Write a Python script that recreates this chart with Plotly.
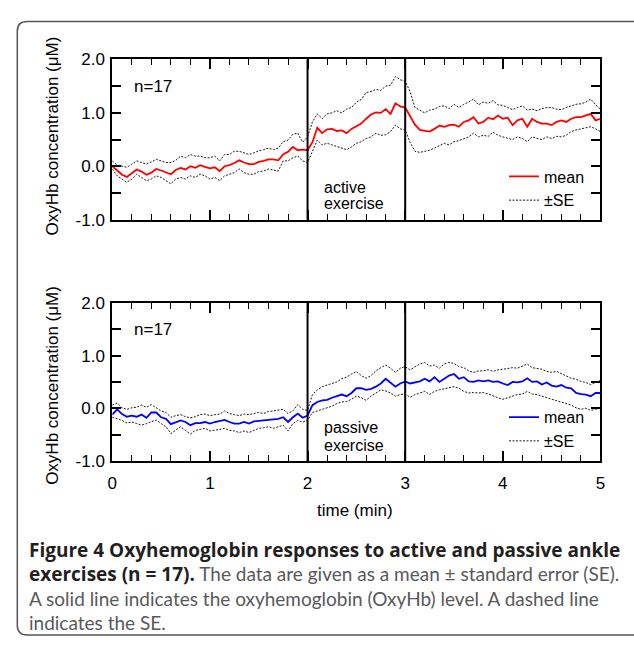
import numpy as np
import plotly.graph_objects as go

# ---------------- data ----------------
time_min = np.linspace(0, 5, 101)  # sampling grid, 0.05 min

exercise_window = [2, 3]

active_mean = [
    0.00, -0.08, -0.16, -0.20, -0.13, -0.06, -0.10, -0.16, -0.12, -0.05, -0.08, -0.11, -0.15, -0.07, -0.03, -0.06, 0.00, -0.03, 0.02, -0.01,
    -0.04, -0.02, -0.09, 0.00, 0.02, 0.06, 0.11, 0.07, 0.04, 0.04, 0.08, 0.10, 0.13, 0.13, 0.11, 0.22, 0.27, 0.36, 0.30, 0.31,
    0.30, 0.45, 0.72, 0.62, 0.69, 0.70, 0.66, 0.67, 0.62, 0.70, 0.75, 0.80, 0.89, 0.97, 1.01, 1.00, 1.07, 0.98, 1.18, 1.12,
    1.10, 0.95, 0.78, 0.68, 0.66, 0.65, 0.70, 0.76, 0.74, 0.77, 0.78, 0.74, 0.83, 0.86, 0.92, 0.80, 0.83, 0.91, 0.88, 0.95,
    0.89, 0.91, 0.77, 0.86, 0.89, 0.74, 0.89, 0.83, 0.80, 0.80, 0.77, 0.83, 0.86, 0.83, 0.89, 0.92, 0.92, 0.95, 0.98, 0.86,
    0.89,
]
active_upper = [
    0.10, 0.02, 0.00, -0.02, 0.04, 0.10, 0.07, 0.04, 0.08, 0.13, 0.10, 0.07, 0.07, 0.11, 0.19, 0.16, 0.22, 0.19, 0.19, 0.16,
    0.16, 0.19, 0.10, 0.22, 0.22, 0.28, 0.28, 0.25, 0.22, 0.25, 0.29, 0.31, 0.34, 0.31, 0.34, 0.46, 0.49, 0.60, 0.62, 0.45,
    0.55, 0.83, 0.98, 0.89, 0.98, 1.00, 1.04, 1.00, 1.07, 1.10, 1.20, 1.25, 1.38, 1.40, 1.44, 1.42, 1.50, 1.52, 1.68, 1.62,
    1.59, 1.40, 1.10, 1.05, 1.00, 1.05, 1.07, 1.12, 1.13, 1.08, 1.16, 1.10, 1.16, 1.20, 1.26, 1.15, 1.20, 1.18, 1.23, 1.15,
    1.14, 1.10, 1.06, 1.10, 1.13, 1.05, 1.07, 1.04, 1.08, 1.10, 1.10, 1.07, 1.06, 1.10, 1.13, 1.16, 1.17, 1.20, 1.26, 1.15,
    1.07,
]
active_lower = [
    -0.05, -0.18, -0.24, -0.30, -0.24, -0.15, -0.21, -0.27, -0.24, -0.18, -0.21, -0.27, -0.33, -0.24, -0.21, -0.24, -0.18, -0.21, -0.15, -0.18,
    -0.24, -0.21, -0.27, -0.18, -0.15, -0.12, -0.05, -0.12, -0.15, -0.15, -0.10, -0.09, -0.05, -0.07, -0.09, 0.10, 0.10, 0.16, 0.19, 0.10,
    0.07, 0.28, 0.49, 0.40, 0.43, 0.40, 0.37, 0.34, 0.31, 0.36, 0.43, 0.46, 0.52, 0.55, 0.62, 0.58, 0.59, 0.65, 0.77, 0.70,
    0.68, 0.45, 0.28, 0.26, 0.28, 0.30, 0.34, 0.38, 0.43, 0.40, 0.46, 0.48, 0.52, 0.55, 0.62, 0.55, 0.58, 0.56, 0.64, 0.58,
    0.55, 0.52, 0.50, 0.55, 0.52, 0.46, 0.55, 0.52, 0.50, 0.55, 0.52, 0.56, 0.55, 0.58, 0.65, 0.68, 0.70, 0.72, 0.74, 0.70,
    0.65,
]

passive_mean = [
    -0.12, -0.02, -0.11, -0.16, -0.14, -0.16, -0.12, -0.18, -0.08, -0.08, -0.17, -0.20, -0.30, -0.26, -0.23, -0.26, -0.32, -0.28, -0.28, -0.26,
    -0.29, -0.26, -0.24, -0.22, -0.26, -0.29, -0.29, -0.26, -0.29, -0.25, -0.24, -0.23, -0.22, -0.22, -0.20, -0.17, -0.26, -0.17, -0.10, -0.18,
    -0.14, 0.06, 0.12, 0.15, 0.16, 0.20, 0.23, 0.26, 0.23, 0.29, 0.38, 0.38, 0.35, 0.37, 0.41, 0.47, 0.56, 0.49, 0.41, 0.47,
    0.51, 0.47, 0.49, 0.51, 0.56, 0.51, 0.59, 0.50, 0.56, 0.62, 0.65, 0.56, 0.59, 0.51, 0.50, 0.53, 0.51, 0.53, 0.50, 0.51,
    0.47, 0.44, 0.50, 0.49, 0.51, 0.57, 0.50, 0.51, 0.45, 0.49, 0.43, 0.41, 0.44, 0.39, 0.38, 0.29, 0.27, 0.26, 0.23, 0.29,
    0.29,
]
passive_upper = [
    0.06, 0.10, 0.01, -0.02, 0.01, 0.02, 0.06, 0.02, 0.07, 0.01, -0.05, -0.08, -0.17, -0.14, -0.12, -0.16, -0.18, -0.16, -0.12, -0.11,
    -0.14, -0.12, -0.11, -0.05, -0.10, -0.12, -0.14, -0.11, -0.12, -0.10, -0.08, -0.10, -0.06, -0.05, -0.04, -0.02, -0.10, -0.05, 0.07, -0.02,
    -0.04, 0.26, 0.35, 0.41, 0.44, 0.47, 0.50, 0.56, 0.59, 0.65, 0.70, 0.62, 0.57, 0.62, 0.71, 0.77, 0.82, 0.76, 0.68, 0.76,
    0.79, 0.73, 0.79, 0.84, 0.87, 0.80, 0.82, 0.76, 0.84, 0.87, 0.85, 0.79, 0.77, 0.71, 0.68, 0.71, 0.71, 0.73, 0.70, 0.73,
    0.74, 0.76, 0.77, 0.76, 0.80, 0.84, 0.77, 0.76, 0.74, 0.70, 0.68, 0.70, 0.66, 0.61, 0.57, 0.55, 0.51, 0.49, 0.45, 0.49,
    0.53,
]
passive_lower = [
    -0.17, -0.20, -0.23, -0.28, -0.26, -0.29, -0.32, -0.29, -0.26, -0.22, -0.29, -0.35, -0.48, -0.42, -0.35, -0.42, -0.49, -0.42, -0.40, -0.38,
    -0.43, -0.42, -0.40, -0.38, -0.42, -0.43, -0.46, -0.43, -0.46, -0.42, -0.38, -0.37, -0.35, -0.38, -0.35, -0.32, -0.43, -0.29, -0.23, -0.26,
    -0.23, -0.08, -0.05, -0.02, 0.01, 0.04, 0.09, 0.12, 0.13, 0.17, 0.23, 0.20, 0.15, 0.23, 0.29, 0.35, 0.33, 0.29, 0.23, 0.26,
    0.27, 0.21, 0.26, 0.29, 0.32, 0.26, 0.32, 0.35, 0.37, 0.39, 0.41, 0.38, 0.32, 0.29, 0.30, 0.29, 0.30, 0.27, 0.23, 0.20,
    0.17, 0.20, 0.23, 0.26, 0.27, 0.32, 0.27, 0.26, 0.23, 0.20, 0.17, 0.15, 0.12, 0.09, 0.06, 0.01, -0.02, 0.00, -0.04, -0.02,
    0.00,
]

for arr in (active_mean, active_upper, active_lower, passive_mean, passive_upper, passive_lower):
    assert len(arr) == len(time_min), len(arr)

y_tickvals = [-1, -0.5, 0, 0.5, 1, 1.5, 2]
y_ticktext = ["-1.0", "", "0.0", "", "1.0", "", "2.0"]
x_tickvals = [0, 1, 2, 3, 4, 5]
x_ticktext = ["0", "1", "2", "3", "4", "5"]

# ---------------- layout helpers ----------------
W, H = 634, 647
def px_x(p):
    return p / W
def px_y(p):
    return 1 - p / H

FONT = "Liberation Sans, Arial, Helvetica, sans-serif"
FS = 17

panels = [
    dict(mean=active_mean, up=active_upper, lo=active_lower, color="#ff0000",
         xa="x", ya="y", leg="legend", label=["active", "exercise"], label_y=[-0.40, -0.70]),
    dict(mean=passive_mean, up=passive_upper, lo=passive_lower, color="#0000ff",
         xa="x2", ya="y2", leg="legend2", label=["passive", "exercise"], label_y=[-0.37, -0.71]),
]

SE_LINE = dict(color="#1a1a1a", width=1, dash="2px,1.5px")

fig = go.Figure()
for p in panels:
    fig.add_trace(go.Scatter(x=time_min, y=p["up"], mode="lines", name="±SE",
                             line=SE_LINE, xaxis=p["xa"], yaxis=p["ya"], legend=p["leg"],
                             legendgroup="se" + p["xa"], legendrank=2))
    fig.add_trace(go.Scatter(x=time_min, y=p["lo"], mode="lines", name="±SE",
                             line=SE_LINE, xaxis=p["xa"], yaxis=p["ya"], legend=p["leg"],
                             legendgroup="se" + p["xa"], showlegend=False))
    fig.add_trace(go.Scatter(x=time_min, y=p["mean"], mode="lines", name="mean",
                             line=dict(color=p["color"], width=1.8),
                             xaxis=p["xa"], yaxis=p["ya"], legend=p["leg"],
                             legendrank=1))

x_dom = [px_x(109), px_x(605)]
top_dom = [px_y(217), px_y(52)]
bot_dom = [px_y(465.7), px_y(302.7)]

def xaxis(anchor, labels):
    return dict(domain=x_dom, anchor=anchor, range=[0, 5], showgrid=False, zeroline=False,
                showline=True, linecolor="black", linewidth=2, mirror="allticks",
                ticks="inside", ticklen=10, tickwidth=1.5, tickcolor="black",
                tickmode="array", tickvals=x_tickvals, ticktext=x_ticktext,
                showticklabels=labels, ticklabelstandoff=6,
                minor=dict(dtick=0.2, tick0=0, ticks="inside", ticklen=6, tickwidth=1.3,
                           tickcolor="black", showgrid=False),
                tickfont=dict(family=FONT, size=FS, color="black"))

def yaxis(anchor, dom):
    return dict(domain=dom, anchor=anchor, range=[-1, 2], showgrid=False, zeroline=False,
                showline=True, linecolor="black", linewidth=2, mirror="allticks",
                ticks="inside", ticklen=9, tickwidth=1.5, tickcolor="black",
                tickmode="array", tickvals=y_tickvals, ticktext=y_ticktext,
                ticklabelstandoff=2,
                tickfont=dict(family=FONT, size=FS, color="black"))

legend_common = dict(font=dict(family=FONT, size=16, color="black"), bgcolor="rgba(0,0,0,0)",
                     itemwidth=30, tracegroupgap=0, xanchor="left", yanchor="top",
                     traceorder="normal")

fig.update_layout(
    width=W, height=H, margin=dict(l=0, r=0, t=0, b=0),
    paper_bgcolor="white", plot_bgcolor="white",
    xaxis=xaxis("y", False), yaxis=yaxis("x", top_dom),
    xaxis2=xaxis("y2", True), yaxis2=yaxis("x2", bot_dom),
    legend=dict(x=px_x(507), y=px_y(155), **legend_common),
    legend2=dict(x=px_x(507), y=px_y(403), **legend_common),
    showlegend=True,
)

annotations = []
for p in panels:
    # exercise window markers
    for xv in exercise_window:
        fig.add_shape(type="line", x0=xv, x1=xv, y0=0, y1=1, xref=p["xa"], yref=p["ya"] + " domain",
                      line=dict(color="black", width=2))
    annotations.append(dict(x=0.2, y=1.5, xref=p["xa"], yref=p["ya"], text="n=17", showarrow=False,
                            xanchor="left", yanchor="middle", font=dict(family=FONT, size=FS, color="black")))
    for txt, yv in zip(p["label"], p["label_y"]):
        annotations.append(dict(x=2.15, y=yv, xref=p["xa"], yref=p["ya"], text=txt, showarrow=False,
                                xanchor="left", yanchor="middle",
                                font=dict(family=FONT, size=16, color="black")))

for yc in (131, 388):
    annotations.append(dict(x=px_x(48), y=px_y(yc), xref="paper", yref="paper",
                            text="OxyHb concentration (μM)", textangle=-90, showarrow=False,
                            xanchor="center", yanchor="middle",
                            font=dict(family=FONT, size=FS, color="black")))
annotations.append(dict(x=px_x(356), y=px_y(517), xref="paper", yref="paper", text="time (min)",
                        showarrow=False, xanchor="center", yanchor="middle",
                        font=dict(family=FONT, size=FS, color="black")))

BOLD_FONT = "Open Sans"
dark = "#231f20"
grey = "#58595b"
def bold(s):
    return f"<span style='font-family:{BOLD_FONT};font-size:19px'><b>{s}</b></span>"
cap_lines = [
    bold("Figure 4 Oxyhemoglobin responses to active and passive ankle"),
    bold("exercises (n = 17).") + f"<span style='color:{grey}'> The data are given as a mean ± standard error (SE).</span>",
    f"<span style='color:{grey}'>A solid line indicates the oxyhemoglobin (OxyHb) level. A dashed line</span>",
    f"<span style='color:{grey}'>indicates the SE.</span>",
]
for i, t in enumerate(cap_lines):
    annotations.append(dict(x=px_x(22), y=px_y(557 + 25 * i), xref="paper", yref="paper", text=t,
                            showarrow=False, xanchor="left", yanchor="middle",
                            font=dict(family="Lato, Open Sans, sans-serif", size=19, color=dark)))

fig.update_layout(annotations=annotations)

# rounded frame around the figure panel
l, t_, b, r = px_x(12.5), px_y(13), px_y(645), px_x(660)
rx, ry = 10 / W, 10 / H
path = (f"M {r},{t_} L {l + rx},{t_} Q {l},{t_} {l},{t_ - ry} "
        f"L {l},{b + ry} Q {l},{b} {l + rx},{b} L {r},{b}")
fig.add_shape(type="path", path=path, xref="paper", yref="paper",
              line=dict(color="#555555", width=1.5))

fig.write_html("out.html", config={"displayModeBar": False},
               post_script="document.body.style.margin='0px';")
